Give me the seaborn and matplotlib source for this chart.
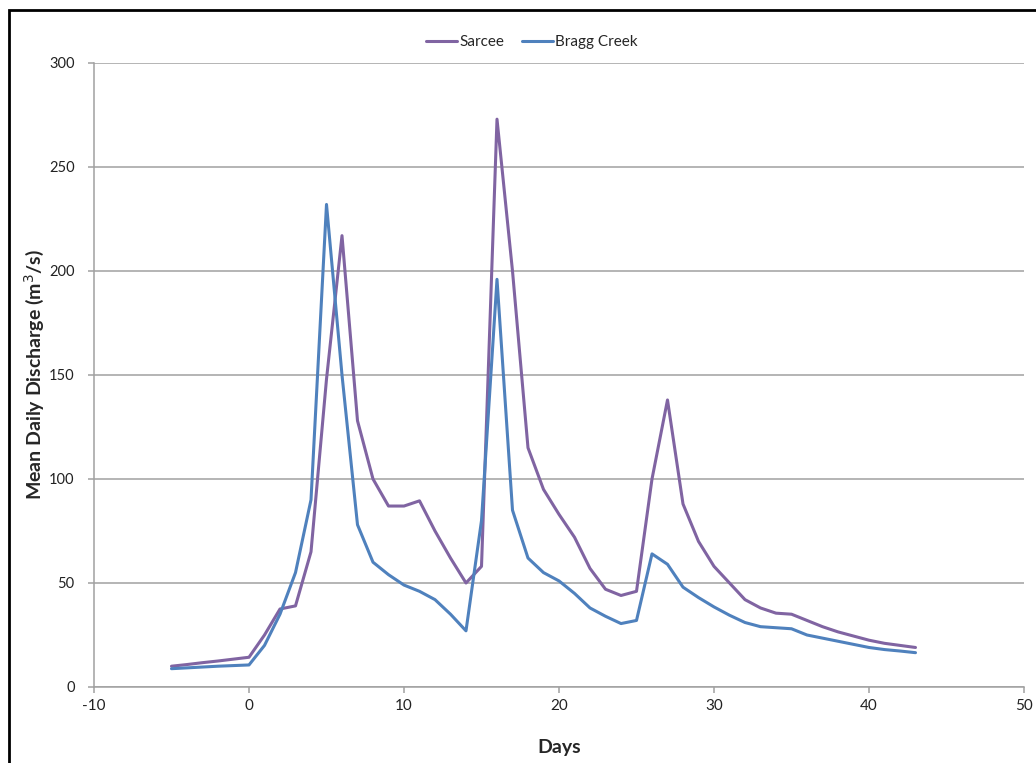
import numpy as np
import pandas as pd
import matplotlib
matplotlib.use("Agg")
import matplotlib.pyplot as plt
import seaborn as sns
from matplotlib.patches import Rectangle

days = list(range(-5, 44))
sarcee = [10, 10.8, 11.7, 12.5, 13.4, 14.3, 25, 37.5, 39, 65, 148, 217, 128, 100, 87, 87,
          89.5, 75, 62, 50, 58, 273, 200, 115, 95, 83, 72, 57, 47, 44, 46, 100, 138, 88,
          70, 58, 50, 42, 38, 35.5, 35, 32, 29, 26.5, 24.5, 22.5, 21, 20, 19]
bragg = [8.8, 9.2, 9.6, 10, 10.3, 10.6, 20, 35, 55, 90, 232, 150, 78, 60, 54, 49, 46, 42,
         35, 27, 80, 196, 85, 62, 55, 51, 45, 38, 34, 30.5, 32, 64, 59, 48, 43, 38.5, 34.5,
         31, 29, 28.5, 28, 25, 23.5, 22, 20.5, 19, 18, 17.3, 16.5]
series_names = ["Sarcee", "Bragg Creek"]
colors = ["#8064A2", "#4F81BD"]
x_ticks = [-10, 0, 10, 20, 30, 40, 50]
y_ticks = [0, 50, 100, 150, 200, 250, 300]

df = pd.DataFrame({
    "Days": days * 2,
    "Discharge": sarcee + bragg,
    "Station": [series_names[0]] * len(days) + [series_names[1]] * len(days),
})

sns.set_style("white")
plt.rcParams["font.family"] = ["Lato", "DejaVu Sans"]

fig = plt.figure(figsize=(10.36, 7.63), dpi=100)
ax = fig.add_axes([94 / 1036, 1 - 687 / 763, (1024 - 94) / 1036, (687 - 63) / 763])

sns.lineplot(data=df, x="Days", y="Discharge", hue="Station", palette=colors,
             hue_order=series_names, linewidth=2.2, ax=ax, legend=True,
             solid_joinstyle="round")

ax.set_xlim(-10, 50)
ax.set_ylim(0, 300)
ax.set_xticks(x_ticks)
ax.set_yticks(y_ticks)
ax.set_xticklabels([str(t) for t in x_ticks], fontsize=11, color="#222222")
ax.set_yticklabels([str(t) for t in y_ticks], fontsize=10.5, color="#222222")
ax.yaxis.grid(True, color="#A0A0A0", linewidth=1.1)
ax.xaxis.grid(False)
for s in ["top", "right"]:
    ax.spines[s].set_visible(False)
for s in ["left", "bottom"]:
    ax.spines[s].set_color("#A0A0A0")
    ax.spines[s].set_linewidth(1.1)
ax.tick_params(axis="both", which="major", direction="out", length=4, width=1.1,
               color="#A0A0A0", bottom=True, left=True)
ax.tick_params(axis="y", pad=10)
ax.tick_params(axis="x", pad=5)

ax.set_xlabel("Days", fontsize=14, fontweight="bold", labelpad=18)
ax.set_ylabel("Mean Daily Discharge (m$^3$/s)", fontsize=14, fontweight="bold", labelpad=2)

leg = ax.legend(loc="center", bbox_to_anchor=(532 / 1036, 1 - 42 / 763), bbox_transform=fig.transFigure,
                ncol=2, frameon=False, fontsize=11, handlelength=2.0, columnspacing=1.2,
                handletextpad=0.15)

fig.patches.append(Rectangle((8.5 / 1036, -0.1), 1.2, 1 - 10 / 763 + 0.1,
                             transform=fig.transFigure, fill=False, edgecolor="black",
                             linewidth=2, zorder=10))

fig.savefig("out.png", dpi=100)
